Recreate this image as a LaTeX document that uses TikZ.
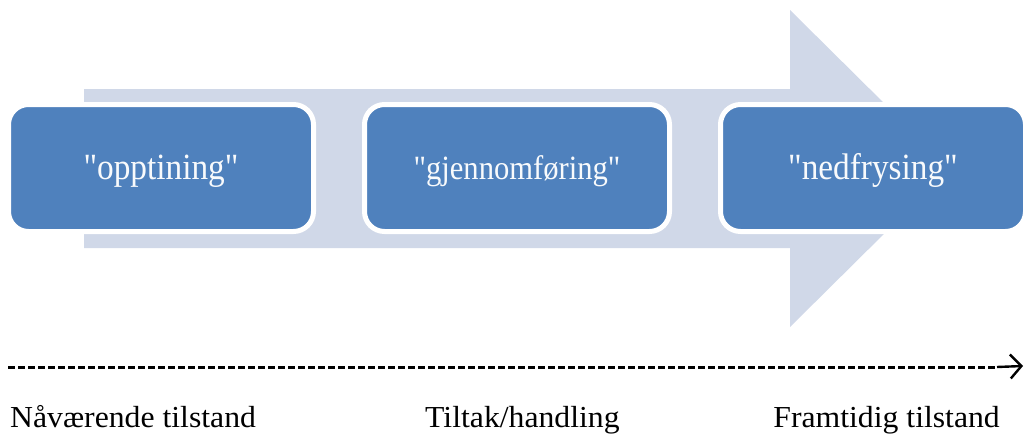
\documentclass[tikz,border=0pt]{standalone}
\usepackage{fontspec}
\setmainfont{Liberation Serif}
\newfontfamily\boxfont[Ligatures=TeXOff,FakeStretch=0.9]{Liberation Serif}
\newfontfamily\labelfont[FakeStretch=1.04]{Liberation Serif}
\usetikzlibrary{positioning,arrows.meta}
\definecolor{boxblue}{HTML}{4F81BD}
\definecolor{arrowgray}{HTML}{D0D8E8}

\begin{document}
\begin{tikzpicture}[x=1pt,y=-1pt,
		box/.style={draw=white, line width=5pt, fill=boxblue, rounded corners=20pt, minimum width=305pt, minimum height=127pt, text=white!96!boxblue, inner sep=0pt, text height=22pt, text depth=0pt},
		tid/.style={anchor=base west, inner sep=0pt, font=\labelfont\fontsize{30.5}{32}\selectfont}]
			\useasboundingbox (0,0) rectangle (1025,437);
			% big background arrow
			\fill[arrowgray] (84,89) -- (790,89) -- (790,10) -- (950,168.5) -- (790,327) -- (790,248) -- (84,248) -- cycle;
			
			\node[box, font=\boxfont\fontsize{37}{40}\selectfont] (opp) at (161,168) {"opptining"};
			\node[box, right=46pt of opp, font=\boxfont\fontsize{34}{37}\selectfont] (gjen) {"gjennomføring"};
			\node[box, right=46pt of gjen, font=\boxfont\fontsize{37}{40}\selectfont] (ned) {"nedfrysing"};
			
			% time line
			\coordinate (start) at (8,367);
			\coordinate (dend) at (997,367);
			\coordinate (tip) at (1023,366);
			\draw[line width=3pt, dash pattern=on 7pt off 3pt] (start) -- (dend);
			\draw[line width=2.4pt, -{Straight Barb[length=11pt,width=24pt]}] (dend) -- (tip);
			
			\node[tid] (naa) at (10,427) {Nåværende tilstand};
			\node[tid] (tilt) at (425,427) {Tiltak/handling};
			\node[tid, anchor=base east] (fram) at (1000,427) {Framtidig tilstand};
		\end{tikzpicture}
\end{document}
